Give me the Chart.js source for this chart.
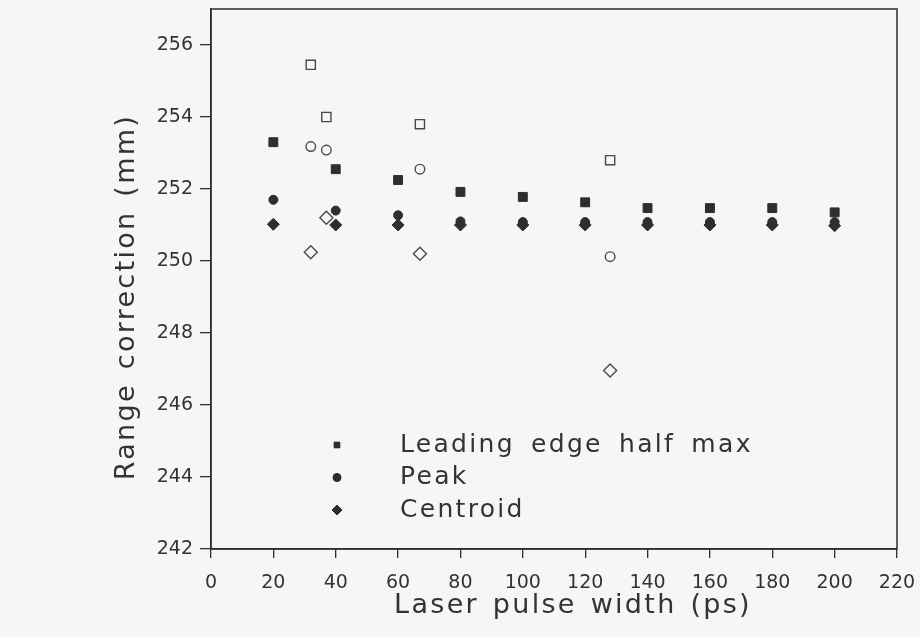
<!DOCTYPE html>
<html>
<head>
<meta charset="utf-8">
<title>Range correction vs laser pulse width</title>
<script src="https://cdn.jsdelivr.net/npm/chart.js@4.4.1/dist/chart.umd.min.js"></script>
<style>
  html, body { margin: 0; padding: 0; background: #f6f6f4; }
  #wrap { width: 920px; height: 637px; position: relative; }
</style>
</head>
<body>
<div id="wrap"><canvas id="range-chart"></canvas></div>
<script>
// pulse widths (ps) for the main detection methods
const pulseWidths = [20, 40, 60, 80, 100, 120, 140, 160, 180, 200];
const leadingEdge = [253.3, 252.55, 252.25, 251.92, 251.78, 251.63, 251.47, 251.47, 251.47, 251.35];
const peak = [251.7, 251.4, 251.27, 251.1, 251.08, 251.08, 251.08, 251.08, 251.08, 251.08];
const centroid = [251.02, 251.0, 251.0, 251.0, 251.0, 251.0, 251.0, 251.0, 251.0, 250.98];

// second run, open symbols
const openWidths = [32, 37, 67, 128];
const openLeadingEdge = [255.45, 254.0, 253.8, 252.8];
const openPeak = [253.18, 253.08, 252.55, 250.12];
const openCentroid = [250.24, 251.2, 250.2, 246.96];

const xTicks = [0, 20, 40, 60, 80, 100, 120, 140, 160, 180, 200, 220];
const yTicks = [242, 244, 246, 248, 250, 252, 254, 256];

const ink = '#2e2e2e';
const paper = '#f6f6f4';
const fontFamily = "'DejaVu Sans', sans-serif";

function points(xs, ys) {
    return xs.map((x, i) => ({ x: x, y: ys[i] }));
}

function filled(label, xs, ys, style, radius) {
    return {
        label: label,
        data: points(xs, ys),
        pointStyle: style,
        pointRadius: radius,
        pointHoverRadius: radius,
        backgroundColor: ink,
        borderColor: ink,
        borderWidth: 1,
        showInLegend: true
    };
}

function hollow(label, xs, ys, style, radius) {
    return {
        label: label,
        data: points(xs, ys),
        pointStyle: style,
        pointRadius: radius,
        pointHoverRadius: radius,
        backgroundColor: paper,
        borderColor: '#4a4a4a',
        borderWidth: 1.4,
        showInLegend: false
    };
}

function spacedText(ctx, size, letter, word) {
    ctx.font = size + 'px ' + fontFamily;
    ctx.letterSpacing = letter + 'px';
    ctx.wordSpacing = word + 'px';
}

// box round the plot, axis titles and the legend inside the plot
const frameAndText = {
    id: 'frameAndText',
    beforeDraw(chart) {
        const ctx = chart.ctx;
        ctx.save();
        ctx.fillStyle = paper;
        ctx.fillRect(0, 0, chart.width, chart.height);
        ctx.restore();
    },
    afterDraw(chart) {
        const ctx = chart.ctx;
        const a = chart.chartArea;
        ctx.save();
        ctx.strokeStyle = ink;
        ctx.lineWidth = 1.5;
        ctx.strokeRect(a.left, a.top, a.right - a.left, a.bottom - a.top);

        ctx.fillStyle = '#333';
        spacedText(ctx, 27, 2.3, 3);
        ctx.textAlign = 'center';
        ctx.textBaseline = 'middle';
        ctx.fillText('Laser pulse width (ps)', (a.left + a.right) / 2 + 19, a.bottom + 57);

        ctx.save();
        ctx.translate(a.left - 84, (a.top + a.bottom) / 2 + 18);
        ctx.rotate(-Math.PI / 2);
        ctx.fillText('Range correction (mm)', 0, 0);
        ctx.restore();

        // legend
        const items = chart.data.datasets.filter(d => d.showInLegend);
        const markX = a.left + 126;
        const textX = a.left + 189;
        let rowY = a.bottom - 104;
        ctx.textAlign = 'left';
        spacedText(ctx, 25, 2.3, 6);
        items.forEach(d => {
            ctx.fillStyle = ink;
            ctx.strokeStyle = ink;
            ctx.lineWidth = 1;
            Chart.helpers.drawPoint(ctx, {
                pointStyle: d.pointStyle,
                radius: d.pointStyle === 'rectRot' ? 5 : 4,
                rotation: 0,
                borderWidth: 1
            }, markX, rowY);
            ctx.fill();
            ctx.fillStyle = '#333';
            ctx.fillText(d.label, textX, rowY);
            rowY += 32.5;
        });
        ctx.restore();
    }
};

new Chart(document.querySelector('#range-chart').getContext('2d'), {
    type: 'scatter',
    data: {
        datasets: [
            hollow('Leading edge half max (2)', openWidths, openLeadingEdge, 'rect', 6.5),
            hollow('Peak (2)', openWidths, openPeak, 'circle', 4.8),
            hollow('Centroid (2)', openWidths, openCentroid, 'rectRot', 6.5),
            filled('Centroid', pulseWidths, centroid, 'rectRot', 6),
            filled('Peak', pulseWidths, peak, 'circle', 4.5),
            filled('Leading edge half max', pulseWidths, leadingEdge, 'rect', 6.3)
        ].reverse()
    },
    options: {
        responsive: true,
        maintainAspectRatio: false,
        animation: false,
        layout: { padding: { left: 0, right: 23, top: 9, bottom: 0 } },
        plugins: {
            legend: { display: false },
            tooltip: { enabled: false }
        },
        scales: {
            x: {
                type: 'linear',
                min: 0,
                max: 220,
                afterBuildTicks: s => { s.ticks = xTicks.map(v => ({ value: v })); },
                afterFit: s => { s.height = 88; s.paddingLeft = 0; s.paddingRight = 0; },
                border: { display: true, color: ink, width: 1.5 },
                grid: { drawOnChartArea: false, drawTicks: true, tickLength: 9, color: ink, lineWidth: 1.3 },
                ticks: { color: '#333', font: { family: fontFamily, size: 19 }, padding: 14, maxRotation: 0 }
            },
            y: {
                type: 'linear',
                min: 242,
                max: 257,
                afterBuildTicks: s => { s.ticks = yTicks.map(v => ({ value: v })); },
                afterFit: s => { s.width = 211; s.paddingTop = 0; s.paddingBottom = 0; },
                border: { display: true, color: ink, width: 1.5 },
                grid: { drawOnChartArea: false, drawTicks: true, tickLength: 11, color: ink, lineWidth: 1.3 },
                ticks: { color: '#333', font: { family: fontFamily, size: 19 }, padding: 7 }
            }
        }
    },
    plugins: [frameAndText]
});
</script>
</body>
</html>
